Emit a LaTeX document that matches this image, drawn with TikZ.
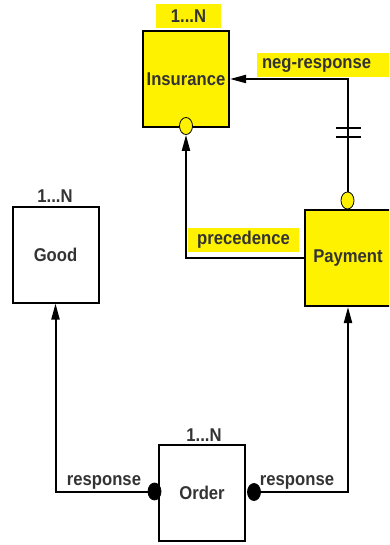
\documentclass[tikz,border=0pt]{standalone}
\usepackage{fontspec}
\setmainfont{Liberation Sans}[FakeStretch=0.9]
\usetikzlibrary{shapes.geometric,arrows.meta}
\newcommand{\lbl}{\fontsize{18.5}{20}\selectfont\bfseries}

\begin{document}
\begin{tikzpicture}[x=1pt,y=-1pt,line width=2pt,
    entity/.style={rectangle,draw,minimum width=86pt,minimum height=96pt,
      inner sep=0pt,font=\lbl,text=black!80},
    tag/.style={inner sep=0pt,font=\lbl,text=black!80},
    hilite/.style={tag,fill=yellow,minimum height=24pt},
    hook/.style={ellipse,draw,line width=0.8pt,minimum width=13pt,
      minimum height=17pt,inner sep=0pt},
    arr/.style={-{Triangle[length=16pt,width=8pt]}}]

  \useasboundingbox (0,0) rectangle (389,545);
  \clip (0,0) rectangle (389,545);

  % entities
  \node[entity,fill=yellow] (ins) at (186,79) {Insurance};
  \node[entity] (good) at (55.5,254.5) {Good};
  \node[entity,fill=yellow] (pay) at (348,258) {Payment};
  \node[entity] (ord) at (202,493) {Order};

  % cardinalities
  \node[hilite,minimum width=65pt] (insn) at (188.5,16) {1...N};
  \node[tag] (goodn) at (55,196) {1...N};
  \node[tag] (ordn) at (204,435) {1...N};

  % end markers
  \node[hook,fill=yellow] (inscirc) at (186,126) { };
  \node[hook,fill=yellow] (paycirc) at (347.5,200.5) { };
  \node[hook,fill=black] (ordl) at (154.5,491.5) { };
  \node[hook,fill=black] (ordr) at (254,492) { };

  % connectors
  \draw[arr] (paycirc.north) |- (ins.east);
  \draw (336,128) -- (361,128);
  \draw (336,137) -- (361,137);
  \draw[arr] (pay.west) -| (inscirc.south);
  \draw[arr] (ordl.west) -| (good.south);
  \draw[arr] (ordr.east) -| (pay.south);

  % connector labels
  \node[hilite,text width=126pt,inner xsep=5pt,align=left,anchor=west] (negr) at (256,65) {neg-response};
  \node[hilite,minimum width=111pt] (prec) at (243.5,240) {precedence};
  \node[tag] (respl) at (104,482) {response};
  \node[tag] (respr) at (297,482) {response};

\end{tikzpicture}
\end{document}
